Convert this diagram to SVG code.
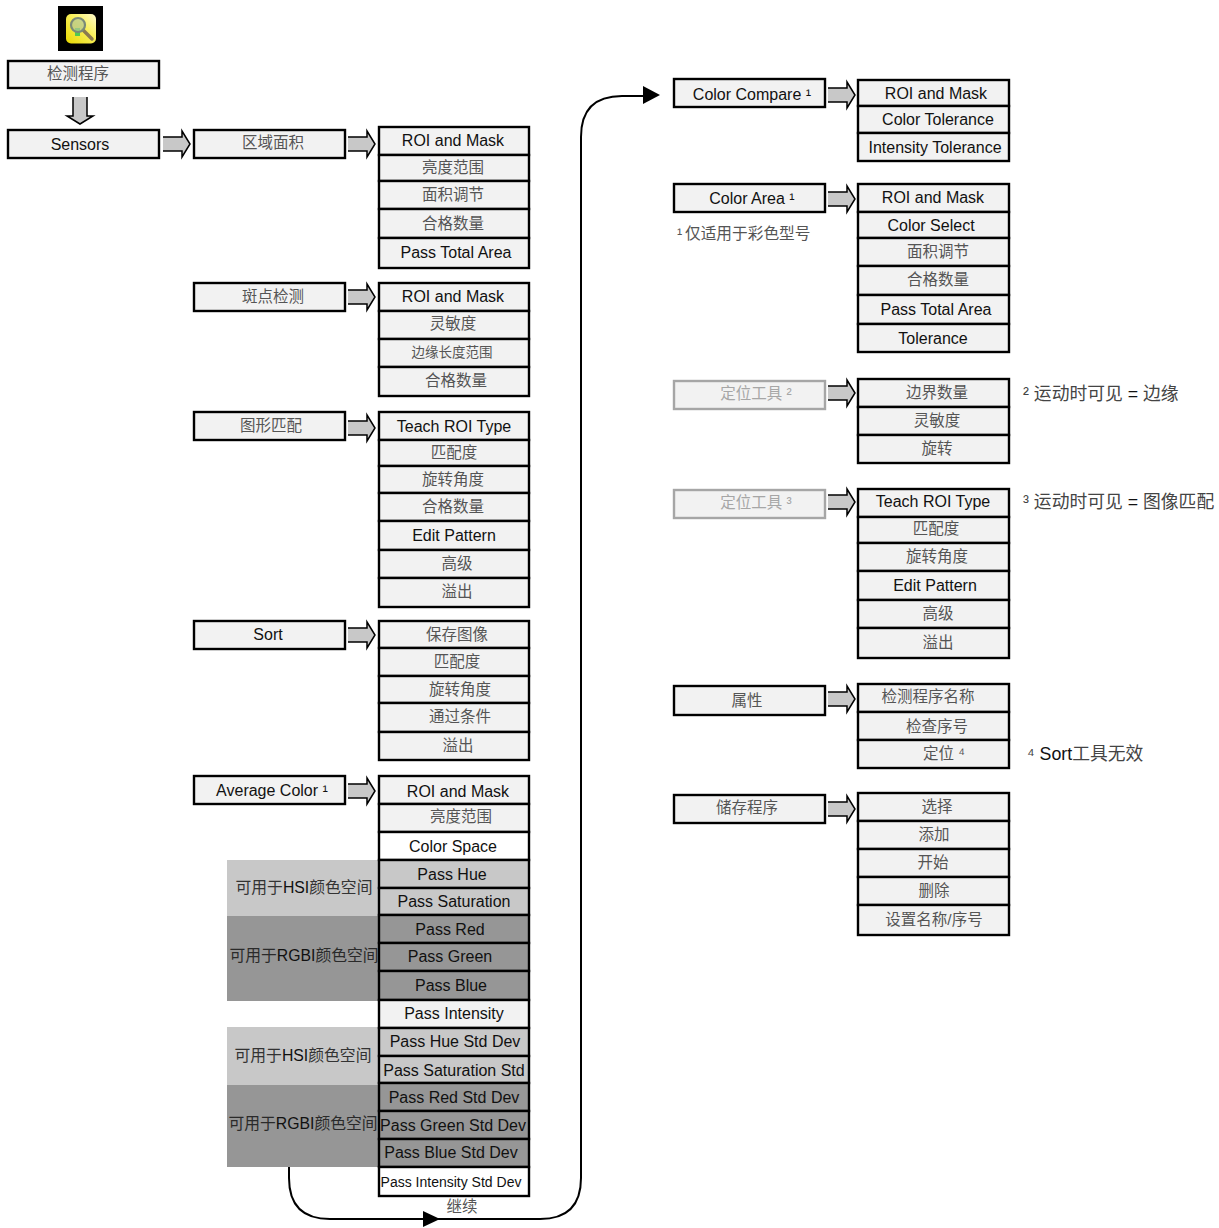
<svg xmlns="http://www.w3.org/2000/svg" width="1219" height="1228" viewBox="0 0 1219 1228">
<style>
text{font-family:"Liberation Sans","Noto Sans CJK SC",sans-serif;font-size:16px;fill:#111;text-anchor:middle}
.c{fill:#555;font-size:15.5px}
.b{fill:#f2f2f2;stroke:#000;stroke-width:2.4}
.w{fill:#fff;stroke:#000;stroke-width:2.4}
.l{fill:#c8c8c8;stroke:#000;stroke-width:2.4}
.d{fill:#969696;stroke:#000;stroke-width:2.4}
.g{fill:#f2f2f2;stroke:#a6a6a6;stroke-width:2.4}
.t{fill:#a6a6a6;font-size:15.5px}
.a{fill:#c8c8c8;stroke:#000;stroke-width:1.5}
.n{text-anchor:start;font-size:17.8px}
.m{fill:#333;font-size:15.8px}
.k{fill:#111}
.v{fill:none;stroke:#000;stroke-width:2}
</style>
<defs>
<path id="ar" class="a" d="M0,-7H19V-13L27,0L19,13V7H0"/>
<linearGradient id="ig" x1="0" y1="1" x2="1" y2="0"><stop offset="0" stop-color="#e8d800"/><stop offset="0.6" stop-color="#f8f060"/><stop offset="1" stop-color="#fffbd0"/></linearGradient>
</defs>
<g id="icon"><rect x="58" y="6" width="45" height="45" fill="#000"/><rect x="66" y="14" width="30" height="29.5" rx="5" fill="url(#ig)"/><rect x="75" y="28" width="5" height="8" fill="#50c850"/><path d="M83,30L92,39" stroke="#8a7a50" stroke-width="3.5" stroke-linecap="round"/><circle cx="78" cy="25" r="7" fill="#b4c896" fill-opacity="0.7" stroke="#7a8a78" stroke-width="2.2"/></g>
<g id="bands">
<rect x="227" y="860" width="152" height="56" fill="#c8c8c8"/>
<rect x="227" y="916" width="152" height="85" fill="#969696"/>
<rect x="227" y="1027" width="152" height="58" fill="#c8c8c8"/>
<rect x="227" y="1085" width="152" height="82" fill="#969696"/>
<text x="304" y="893" class="m">可用于<tspan class="k">HSI</tspan>颜色空间</text>
<text x="304" y="961" class="m" style="fill:#2a2a2a">可用于<tspan class="k">RGBI</tspan>颜色空间</text>
<text x="303" y="1061" class="m">可用于<tspan class="k">HSI</tspan>颜色空间</text>
<text x="303" y="1129" class="m" style="fill:#2a2a2a">可用于<tspan class="k">RGBI</tspan>颜色空间</text>
</g>
<g id="connectors">
<path class="v" d="M289,1167V1178Q289,1219 330,1219H540Q581,1219 581,1178V137Q581,96 622,96H645"/>
<path d="M423,1211L440,1219L423,1227Z"/>
<path d="M643,86L660,95L643,104Z"/>
<use href="#ar" transform="translate(80,97) rotate(90)"/>
<use href="#ar" transform="translate(163,144)"/>
<use href="#ar" transform="translate(348,144)"/>
<use href="#ar" transform="translate(348,297)"/>
<use href="#ar" transform="translate(348,428)"/>
<use href="#ar" transform="translate(348,635)"/>
<use href="#ar" transform="translate(348,791)"/>
<use href="#ar" transform="translate(828,95)"/>
<use href="#ar" transform="translate(828,199)"/>
<use href="#ar" transform="translate(828,393)"/>
<use href="#ar" transform="translate(828,502)"/>
<use href="#ar" transform="translate(828,699)"/>
<use href="#ar" transform="translate(828,809)"/>
</g>
<g id="n-program"><rect class="b" x="8" y="61" width="151" height="27"/><text class="c" x="78" y="79">检测程序</text></g>
<g id="n-sensors"><rect class="b" x="8" y="130" width="151" height="28"/><text x="80" y="150">Sensors</text></g>
<g id="n-area"><rect class="b" x="194" y="130" width="151" height="28"/><text class="c" x="273" y="148">区域面积</text></g>
<g id="n-blob"><rect class="b" x="194" y="283" width="151" height="28"/><text class="c" x="273" y="302">斑点检测</text></g>
<g id="n-pattern"><rect class="b" x="194" y="412" width="151" height="28"/><text class="c" x="271" y="431">图形匹配</text></g>
<g id="n-sort"><rect class="b" x="194" y="621" width="151" height="28"/><text x="268" y="640">Sort</text></g>
<g id="n-avg"><rect class="b" x="194" y="776" width="151" height="28"/><text x="272" y="796">Average Color ¹</text></g>
<g id="n-cc"><rect class="b" x="674" y="79" width="151" height="28"/><text x="752" y="100">Color Compare ¹</text></g>
<g id="n-ca"><rect class="b" x="674" y="184" width="151" height="28"/><text x="752" y="204">Color Area ¹</text></g>
<g id="n-loc2"><rect class="g" x="674" y="381" width="151" height="28"/><text class="t" x="756" y="399">定位工具 ²</text></g>
<g id="n-loc3"><rect class="g" x="674" y="490" width="151" height="28"/><text class="t" x="756" y="508">定位工具 ³</text></g>
<g id="n-prop"><rect class="b" x="674" y="686" width="151" height="29"/><text class="c" x="747" y="706">属性</text></g>
<g id="n-save"><rect class="b" x="674" y="795" width="151" height="28"/><text class="c" x="747" y="813">储存程序</text></g>
<g id="s-area">
<rect class="b" x="379" y="127" width="150" height="28"/><text x="453" y="146">ROI and Mask</text>
<rect class="b" x="379" y="155" width="150" height="26"/><text class="c" x="453" y="173">亮度范围</text>
<rect class="b" x="379" y="181" width="150" height="28"/><text class="c" x="453" y="200">面积调节</text>
<rect class="b" x="379" y="209" width="150" height="29"/><text class="c" x="453" y="229">合格数量</text>
<rect class="b" x="379" y="238" width="150" height="30"/><text x="456" y="258">Pass Total Area</text>
</g>
<g id="s-blob">
<rect class="b" x="379" y="283" width="150" height="28"/><text x="453" y="302">ROI and Mask</text>
<rect class="b" x="379" y="311" width="150" height="28"/><text class="c" x="453" y="329">灵敏度</text>
<rect class="b" x="379" y="339" width="150" height="28"/><text class="c" x="452" y="357" style="font-size:13.5px">边缘长度范围</text>
<rect class="b" x="379" y="367" width="150" height="29"/><text class="c" x="456" y="386">合格数量</text>
</g>
<g id="s-pattern">
<rect class="b" x="379" y="412" width="150" height="28"/><text x="454" y="432">Teach ROI Type</text>
<rect class="b" x="379" y="440" width="150" height="26"/><text class="c" x="454" y="458">匹配度</text>
<rect class="b" x="379" y="466" width="150" height="27"/><text class="c" x="453" y="485">旋转角度</text>
<rect class="b" x="379" y="493" width="150" height="28"/><text class="c" x="453" y="512">合格数量</text>
<rect class="b" x="379" y="521" width="150" height="29"/><text x="454" y="541">Edit Pattern</text>
<rect class="b" x="379" y="550" width="150" height="28"/><text class="c" x="457" y="569">高级</text>
<rect class="b" x="379" y="578" width="150" height="29"/><text class="c" x="457" y="597">溢出</text>
</g>
<g id="s-sort">
<rect class="b" x="379" y="621" width="150" height="27"/><text class="c" x="457" y="640">保存图像</text>
<rect class="b" x="379" y="648" width="150" height="28"/><text class="c" x="457" y="667">匹配度</text>
<rect class="b" x="379" y="676" width="150" height="27"/><text class="c" x="460" y="695">旋转角度</text>
<rect class="b" x="379" y="703" width="150" height="29"/><text class="c" x="460" y="722">通过条件</text>
<rect class="b" x="379" y="732" width="150" height="28"/><text class="c" x="458" y="751">溢出</text>
</g>
<g id="s-avg">
<rect class="b" x="379" y="776" width="150" height="28"/><text x="458" y="797">ROI and Mask</text>
<rect class="b" x="379" y="804" width="150" height="28"/><text class="c" x="461" y="822">亮度范围</text>
<rect class="w" x="379" y="832" width="150" height="28"/><text x="453" y="852">Color Space</text>
<rect class="l" x="379" y="860" width="150" height="28"/><text x="452" y="880">Pass Hue</text>
<rect class="l" x="379" y="888" width="150" height="27"/><text x="454" y="907">Pass Saturation</text>
<rect class="d" x="379" y="915" width="150" height="28"/><text x="450" y="935">Pass Red</text>
<rect class="d" x="379" y="943" width="150" height="28"/><text x="450" y="962">Pass Green</text>
<rect class="d" x="379" y="971" width="150" height="29"/><text x="451" y="991">Pass Blue</text>
<rect class="b" x="379" y="1000" width="150" height="28"/><text x="454" y="1019">Pass Intensity</text>
<rect class="l" x="379" y="1028" width="150" height="28"/><text x="455" y="1047">Pass Hue Std Dev</text>
<rect class="l" x="379" y="1056" width="150" height="27"/><text x="454" y="1076">Pass Saturation Std</text>
<rect class="d" x="379" y="1083" width="150" height="28"/><text x="454" y="1103">Pass Red Std Dev</text>
<rect class="d" x="379" y="1111" width="150" height="28"/><text x="453" y="1131">Pass Green Std Dev</text>
<rect class="d" x="379" y="1139" width="150" height="28"/><text x="451" y="1158">Pass Blue Std Dev</text>
<rect class="w" x="379" y="1167" width="150" height="29"/><text x="451" y="1187" style="font-size:14px">Pass Intensity Std Dev</text>
</g>
<text class="c" x="462" y="1212">继续</text>
<g id="s-cc">
<rect class="b" x="858" y="80" width="151" height="26"/><text x="936" y="99">ROI and Mask</text>
<rect class="b" x="858" y="106" width="151" height="27"/><text x="938" y="125">Color Tolerance</text>
<rect class="b" x="858" y="133" width="151" height="28"/><text x="935" y="153">Intensity Tolerance</text>
</g>
<g id="s-ca">
<rect class="b" x="858" y="184" width="151" height="28"/><text x="933" y="203">ROI and Mask</text>
<rect class="b" x="858" y="212" width="151" height="26"/><text x="931" y="231">Color Select</text>
<rect class="b" x="858" y="238" width="151" height="28"/><text class="c" x="938" y="257">面积调节</text>
<rect class="b" x="858" y="266" width="151" height="29"/><text class="c" x="938" y="285">合格数量</text>
<rect class="b" x="858" y="295" width="151" height="29"/><text x="936" y="315">Pass Total Area</text>
<rect class="b" x="858" y="324" width="151" height="28"/><text x="933" y="344">Tolerance</text>
</g>
<g id="s-loc2">
<rect class="b" x="858" y="379" width="151" height="28"/><text class="c" x="937" y="398">边界数量</text>
<rect class="b" x="858" y="407" width="151" height="28"/><text class="c" x="937" y="426">灵敏度</text>
<rect class="b" x="858" y="435" width="151" height="28"/><text class="c" x="937" y="454">旋转</text>
</g>
<g id="s-loc3">
<rect class="b" x="858" y="489" width="151" height="28"/><text x="933" y="507">Teach ROI Type</text>
<rect class="b" x="858" y="517" width="151" height="26"/><text class="c" x="936" y="534">匹配度</text>
<rect class="b" x="858" y="543" width="151" height="28"/><text class="c" x="937" y="562">旋转角度</text>
<rect class="b" x="858" y="571" width="151" height="29"/><text x="935" y="591">Edit Pattern</text>
<rect class="b" x="858" y="600" width="151" height="28"/><text class="c" x="938" y="619">高级</text>
<rect class="b" x="858" y="628" width="151" height="30"/><text class="c" x="938" y="648">溢出</text>
</g>
<g id="s-prop">
<rect class="b" x="858" y="684" width="151" height="28"/><text class="c" x="928" y="702">检测程序名称</text>
<rect class="b" x="858" y="712" width="151" height="28"/><text class="c" x="937" y="732">检查序号</text>
<rect class="b" x="858" y="740" width="151" height="28"/><text class="c" x="944" y="759">定位 ⁴</text>
</g>
<g id="s-save">
<rect class="b" x="858" y="793" width="151" height="28"/><text class="c" x="937" y="812">选择</text>
<rect class="b" x="858" y="821" width="151" height="28"/><text class="c" x="934" y="840">添加</text>
<rect class="b" x="858" y="849" width="151" height="28"/><text class="c" x="933" y="868">开始</text>
<rect class="b" x="858" y="877" width="151" height="28"/><text class="c" x="934" y="896">删除</text>
<rect class="b" x="858" y="905" width="151" height="30"/><text class="c" x="934" y="925">设置名称/序号</text>
</g>
<g id="notes">
<text class="c n" x="677" y="239" style="font-size:15.7px">¹<tspan x="685">仅适用于彩色型号</tspan></text>
<text class="c n" x="1023" y="400" style="fill:#444">² 运动时可见 <tspan class="k">=</tspan> 边缘</text>
<text class="c n" x="1023" y="508" style="fill:#444">³ 运动时可见 <tspan class="k">=</tspan> 图像匹配</text>
<text class="c n" x="1027" y="760" style="fill:#444">⁴ <tspan class="k">Sort</tspan>工具无效</text>
</g>
</svg>
